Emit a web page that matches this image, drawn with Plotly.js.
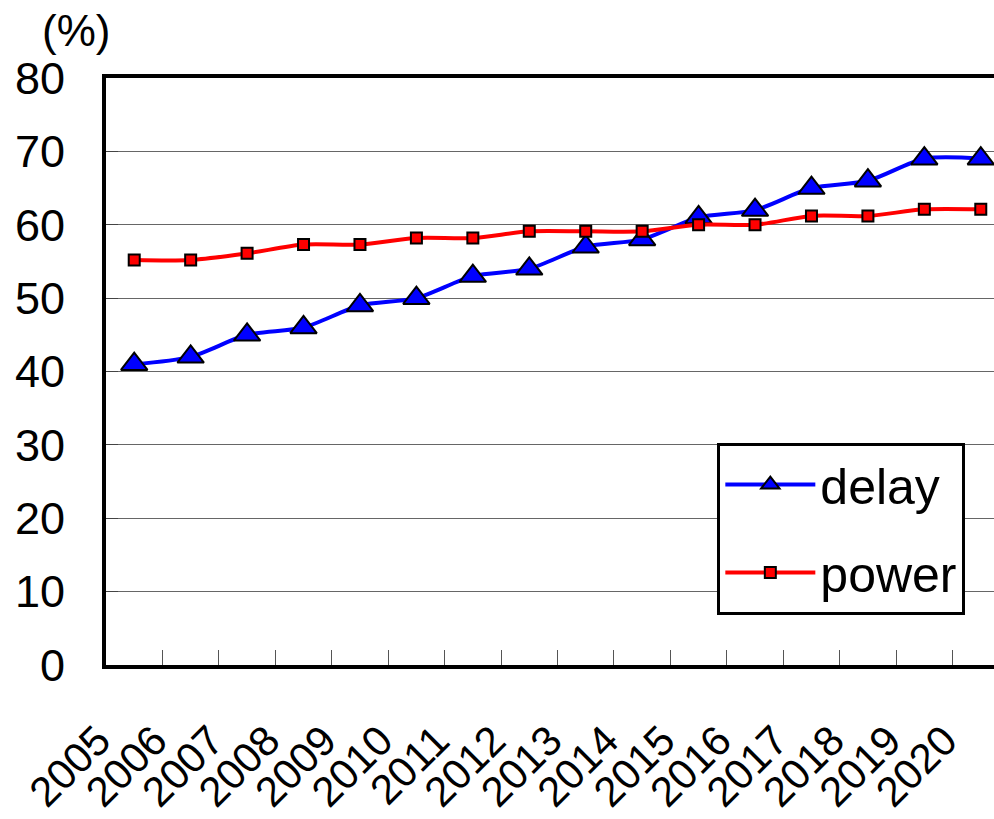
<!DOCTYPE html>
<html>
<head>
<meta charset="utf-8">
<script src="https://cdn.plot.ly/plotly-3.0.1.min.js"></script>
<style>
html,body{margin:0;padding:0;overflow:hidden;background:#fff;}
#chart{width:1020px;height:819px;}
</style>
</head>
<body>
<div id="chart"></div>
<script>
const years = ['2005','2006','2007','2008','2009','2010','2011','2012','2013','2014','2015','2016','2017','2018','2019','2020'];
const delay = [41, 42, 45, 46, 49, 50, 53, 54, 57, 58, 61, 62, 65, 66, 69, 69];
const power = [55.2, 55.2, 56.1, 57.3, 57.3, 58.2, 58.2, 59.1, 59.1, 59.1, 60, 60, 61.2, 61.2, 62.1, 62.1];
const yTicks = [0, 10, 20, 30, 40, 50, 60, 70, 80];

const font = 'Arial, "Liberation Sans", sans-serif';

const traces = [
  {
    x: years, y: delay, name: 'delay', type: 'scatter', mode: 'lines+markers',
    legendgroup: 'a',
    line: {color: '#0000ff', width: 4, shape: 'spline', smoothing: 0.8},
    marker: {symbol: 'triangle-up', size: 23, color: '#0000ff', line: {color: '#000', width: 2}}
  },
  {
    x: years, y: power, name: 'power', type: 'scatter', mode: 'lines+markers',
    legendgroup: 'b',
    line: {color: '#ff0000', width: 4, shape: 'spline', smoothing: 0.8},
    marker: {symbol: 'square', size: 11, color: '#ff0000', line: {color: '#000', width: 2}}
  }
];

const layout = {
  width: 1020, height: 819,
  margin: {l: 106, r: 11, t: 78, b: 154},
  paper_bgcolor: '#fff', plot_bgcolor: '#fff',
  font: {family: font, color: '#000'},
  showlegend: true,
  legend: {
    x: 0.677, y: 0.379, xanchor: 'left', yanchor: 'top',
    bgcolor: '#fff', bordercolor: '#000', borderwidth: 3,
    font: {family: font, size: 50, color: '#000'},
    itemwidth: 90, tracegroupgap: 20
  },
  xaxis: {
    type: 'category', tickson: 'boundaries', range: [-0.5, 15.5], autorange: false,
    tickmode: 'array', tickvals: years, ticktext: years,
    showline: true, linecolor: '#000', linewidth: 4, mirror: true,
    showgrid: false, ticks: 'inside', ticklen: 15, tickwidth: 1, tickcolor: '#555',
    tickangle: -45, tickfont: {family: font, size: 42, color: '#000'},
    ticklabelshift: -36, ticklabelstandoff: 30,
    zeroline: false, fixedrange: true
  },
  yaxis: {
    range: [0, 80], autorange: false, tickvals: yTicks, ticktext: yTicks.map(String),
    showline: true, linecolor: '#000', linewidth: 4, mirror: true,
    showgrid: true, gridcolor: '#666', gridwidth: 1,
    ticks: 'inside', ticklen: 12, tickwidth: 1, tickcolor: '#444',
    ticklabelstandoff: 28,
    tickfont: {family: font, size: 45, color: '#000'},
    zeroline: false, fixedrange: true
  },
  annotations: [{
    text: '(%)', xref: 'paper', yref: 'paper', x: -0.033, y: 1.081,
    xanchor: 'center', yanchor: 'middle', showarrow: false,
    font: {family: font, size: 44, color: '#000'}
  }]
};

Plotly.newPlot('chart', traces, layout, {displayModeBar: false, staticPlot: true});
</script>
</body>
</html>
